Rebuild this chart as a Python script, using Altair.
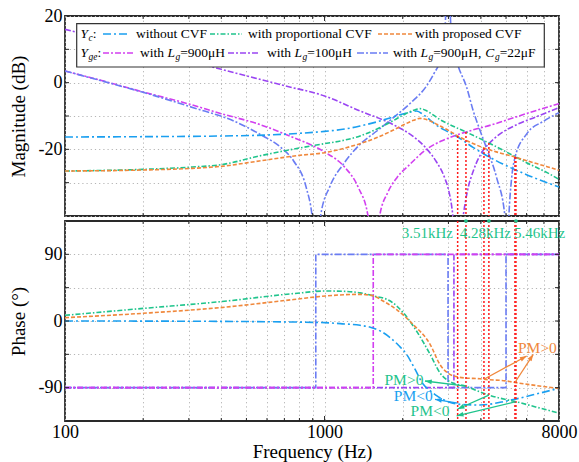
import math
import altair as alt
import pandas as pd

# ---------------- magnitude curves (Hz, dB) ----------------
yc_none_mag_f = [100, 200, 400, 600, 800, 1000, 1200, 1370, 1600, 1800, 2000, 2150, 2260,
                 2400, 2550, 2700, 3000, 3260, 3730, 4110, 4860, 6000, 7200, 8000]
yc_none_mag = [-16.3, -16.2, -16.0, -15.7, -15.2, -14.6, -13.9, -13.0, -11.7, -10.5, -9.4, -8.8, -8.5,
               -9.6, -11.2, -12.8, -14.8, -16.3, -19.4, -21.4, -24.4, -27.6, -30.0, -31.3]

yc_prop_mag_f = [100, 200, 310, 400, 560, 800, 1000, 1200, 1370, 1600, 1800, 2000, 2200, 2330,
                 2450, 2600, 2800, 3000, 3505, 4295, 5460, 6000, 7200, 8000]
yc_prop_mag = [-26.5, -26.0, -25.3, -24.6, -22.0, -19.6, -18.3, -17.2, -16.0, -13.8, -11.8, -9.8, -8.3, -7.8,
               -8.3, -9.5, -11.2, -12.4, -14.8, -18.1, -22.3, -24.0, -27.0, -29.0]

yc_new_mag_f = [100, 200, 310, 400, 560, 800, 1000, 1200, 1370, 1600, 1800, 2000, 2200, 2330, 2450,
                2600, 2800, 3000, 3256, 3600, 4111, 4700, 5412, 6000, 7200, 8000]
yc_new_mag = [-26.5, -26.2, -25.7, -25.1, -23.5, -21.8, -21.0, -19.6, -18.3, -16.4, -14.6, -12.8, -11.3, -10.7, -11.0,
              -11.8, -13.1, -14.3, -16.0, -17.7, -19.6, -21.0, -22.3, -23.4, -25.2, -26.3]

yge_l900_mag_f = [100, 150, 200, 300, 400, 560, 760, 1000, 1200, 1350, 1470, 1550, 1630, 1750, 1900,
                  2130, 2470, 2800, 3230, 3800, 4470, 5500, 6500, 8000]
yge_l900_mag = [3.5, -0.1, -2.8, -6.4, -9.3, -12.5, -16.5, -20.8, -25.5, -31.5, -40.0, -55.0, -40.0, -33.0, -28.5,
                -24.5, -20.0, -17.6, -15.7, -14.0, -12.5, -10.2, -8.4, -6.3]

yge_l100_mag_f = [100, 200, 400, 700, 1000, 1370, 1840, 2200, 2470, 2700, 2900, 3000, 3100, 3250, 3420,
                  3550, 3740, 4111, 4295, 4700, 5500, 6500, 8000]
yge_l100_mag = [16.0, 10.0, 4.0, -0.9, -4.0, -8.5, -12.6, -16.2, -19.8, -23.8, -28.5, -32.0, -38.0, -55.0, -40.0,
                -32.5, -26.5, -20.0, -18.3, -15.6, -12.6, -10.3, -7.5]

yge_lc_mag_f = [100, 150, 200, 312, 450, 564, 680, 760, 850, 895, 930, 965, 1050, 1180, 1370, 1590, 1840,
                2150, 2470, 2650, 2783, 2900, 2990, 3080, 3230, 3530, 3740, 4000, 4200, 4600, 4950, 5050,
                5130, 5250, 5412, 5990, 7000, 8000]
yge_lc_mag = [3.5, -0.2, -2.9, -7.5, -11.6, -15.5, -19.5, -23.5, -31.5, -40.0, -55.0, -40.0, -31.0, -24.5, -18.5,
              -14.5, -10.5, -6.0, -1.0, 3.0, 6.5, 14.0, 35.0, 14.0, 6.5, -1.5, -8.5, -15.0, -19.5, -28.5, -40.0,
              -55.0, -40.0, -29.0, -22.5, -15.5, -11.5, -9.0]

# ---------------- phase curves (Hz, deg) ----------------
yc_none_ph_f = [100, 300, 600, 1000, 1150, 1370, 1520, 1650, 1790, 1930, 2070, 2230, 2400, 2550, 2710,
                3050, 3330, 3970, 5030, 6300, 7950]
yc_none_ph = [0, -0.3, -1.0, -2.2, -3.6, -5.8, -9.0, -14.0, -22.5, -33.0, -45.0, -65.0, -85.5, -94.0, -101.0,
              -110.0, -112.5, -113.4, -108.0, -100.0, -91.0]

yc_prop_ph_f = [100, 200, 395, 760, 1010, 1200, 1370, 1540, 1790, 2000, 2260, 2550, 2780, 3130, 3505,
                3740, 4295, 5300, 5460, 6500, 7950]
yc_prop_ph = [7.7, 17.0, 26.0, 37.0, 40.5, 40.0, 38.0, 34.0, 27.0, 12.0, -13.5, -45.0, -69.8, -84.0, -88.0,
              -92.0, -100.0, -108.0, -109.0, -116.0, -124.0]

yc_new_ph_f = [100, 200, 395, 760, 1010, 1200, 1370, 1540, 1680, 1900, 2190, 2550, 2780, 3130, 3500,
               3970, 4111, 5030, 5412, 6500, 7950]
yc_new_ph = [4.5, 10.4, 18.0, 29.0, 33.8, 35.5, 36.0, 34.0, 27.0, 15.0, -4.5, -31.5, -58.5, -74.0, -77.0,
             -78.0, -78.7, -81.0, -83.0, -87.0, -91.0]

yge_l900_ph_f = [100, 1540, 1540, 8000]
yge_l900_ph = [-90, -90, 90, 90]
yge_l100_ph_f = [100, 3150, 3150, 8000]
yge_l100_ph = [-90, -90, 90, 90]
yge_lc_ph_f = [100, 925, 925, 2990, 2990, 5000, 5000, 8000]
yge_lc_ph = [-90, -90, 90, 90, -90, -90, 90, 90]

# intersection frequencies (Hz) and magnitude at the crossing (dB)
cross_f = [3256, 3505, 4111, 4295, 5412, 5460]
cross_mag = [-16.0, -14.8, -19.6, -18.1, -22.3, -22.3]

# marked crossover frequencies of the proportional-CVF design
mark_f = [3505, 4295, 5460]
mark_text = ["3.51kHz", "4.28kHz", "5.46kHz"]

# phase-margin annotations
pm_text = ["PM>0", "PM>0", "PM<0", "PM<0"]
pm_f = [6607, 2022, 2196, 2547]
pm_v = [-37.0, -80.3, -100.6, -121.5]

# arrows: tail (curve point) -> head (near label)
arrow_f0 = [4111, 5412, 3505, 3256, 4295, 5460]
arrow_v0 = [-78.7, -83.0, -88.0, -111.0, -100.0, -109.0]
arrow_f1 = [6005, 6368, 2436, 2663, 3256, 3228]
arrow_v1 = [-47.3, -45.0, -81.0, -105.7, -118.8, -128.0]

# ---------------- styling ----------------
W, H = 494, 200
F_MIN, F_MAX = 100, 8000
MAG_MIN, MAG_MAX = -40, 20
PH_MIN, PH_MAX = -135, 135
FONT = "Liberation Serif"

BLUE = "#1a9ff0"
GREEN = "#1fc48c"
ORANGE = "#f0883c"
MAGENTA = "#d23ff0"
PURPLE = "#9a45f2"
LAVENDER = "#6a7cf3"
RED = "#ff1a1a"

pm_color = [ORANGE, GREEN, BLUE, GREEN]
arrow_color = [ORANGE, ORANGE, GREEN, BLUE, GREEN, GREEN]

x_ticks = [100, 200, 300, 400, 500, 600, 700, 800, 900, 1000,
           2000, 3000, 4000, 5000, 6000, 7000, 8000]
x_minor = [200, 300, 400, 500, 600, 700, 800, 900, 2000, 3000, 4000, 5000, 6000, 7000]
x_major = [1000]

x_scale = alt.Scale(type="log", domain=[F_MIN, F_MAX], nice=False)
mag_scale = alt.Scale(domain=[MAG_MIN, MAG_MAX], nice=False, zero=False)
ph_scale = alt.Scale(domain=[PH_MIN, PH_MAX], nice=False, zero=False)

GRID = dict(grid=True, gridDash=[1.2, 3], gridColor="#b5b5b5", gridWidth=1,
            ticks=False, domain=False)

x_axis_top = alt.Axis(values=x_ticks, labels=False, title=None, **GRID)
x_axis_bot = alt.Axis(values=x_ticks, title="Frequency (Hz)", labelOverlap=False, labelFlush=False,
                      labelExpr="indexof([100, 1000, 8000], datum.value) >= 0 ? '' + datum.value : ''",
                      labelPadding=2, titlePadding=1, **GRID)
mag_axis = alt.Axis(values=[-40, -30, -20, -10, 0, 10, 20], title="Magnitude (dB)",
                    labelExpr="indexof([-20, 0, 20], datum.value) >= 0 ? '' + datum.value : ''",
                    labelPadding=3, titlePadding=10, **GRID)
ph_axis = alt.Axis(values=[-90, -45, 0, 45, 90], title="Phase (°)",
                   labelExpr="indexof([-90, 0, 90], datum.value) >= 0 ? '' + datum.value : ''",
                   labelPadding=3, titlePadding=10, **GRID)


def series_df(fs, vs):
    return pd.DataFrame({"f": fs, "v": vs, "i": list(range(len(fs)))})


def f_of_px(px):
    return F_MIN * (F_MAX / F_MIN) ** (px / W)


def mag_of_px(py):
    return MAG_MAX - (MAG_MAX - MAG_MIN) * py / H


def px_of(f, v):
    return (W * math.log10(f / F_MIN) / math.log10(F_MAX / F_MIN),
            H * (PH_MAX - v) / (PH_MAX - PH_MIN))


def panel_layers(x_axis, y_scale, y_axis):
    X = lambda: alt.X("f:Q", scale=x_scale, axis=x_axis)
    Y = lambda: alt.Y("v:Q", scale=y_scale, axis=y_axis)
    return X, Y


def curve(df, X, Y, color, dash, width=1.6):
    return alt.Chart(df).mark_line(
        color=color, strokeDash=dash, strokeWidth=width, clip=True, interpolate="monotone"
    ).encode(x=X(), y=Y(), order="i:Q")


def step(df, X, Y, color, dash, width=1.6):
    return alt.Chart(df).mark_line(
        color=color, strokeDash=dash, strokeWidth=width, clip=True, interpolate="linear"
    ).encode(x=X(), y=Y(), order="i:Q")


def frame_ticks(X, Y, y_tick_vals):
    tk = "#222"
    minor = pd.DataFrame({"f": x_minor})
    major = pd.DataFrame({"f": x_major})
    yv = pd.DataFrame({"v": y_tick_vals})
    out = []
    for d, ln in ((minor, 3), (major, 5)):
        out.append(alt.Chart(d).mark_rule(color=tk, strokeWidth=1).encode(
            x=X(), y=alt.value(0), y2=alt.value(ln)))
        out.append(alt.Chart(d).mark_rule(color=tk, strokeWidth=1).encode(
            x=X(), y=alt.value(H), y2=alt.value(H - ln)))
    out.append(alt.Chart(yv).mark_rule(color=tk, strokeWidth=1).encode(
        y=Y(), x=alt.value(0), x2=alt.value(4)))
    out.append(alt.Chart(yv).mark_rule(color=tk, strokeWidth=1).encode(
        y=Y(), x=alt.value(W), x2=alt.value(W - 4)))
    return out


# ---------------- legend layout ----------------
CW = {" ": 0.25, "w": 0.722, "i": 0.278, "t": 0.278, "h": 0.5, "o": 0.5, "u": 0.5, "C": 0.667,
      "V": 0.722, "F": 0.556, "p": 0.5, "r": 0.333, "n": 0.5, "a": 0.444, "l": 0.278, "s": 0.389,
      "e": 0.444, "d": 0.5, "L": 0.556, "g": 0.5, "=": 0.564, "μ": 0.576, "H": 0.722, ",": 0.25,
      "Y": 0.556, "c": 0.444, ":": 0.278}
LEG_FS, SUB_FS = 13.5, 9.5


def text_w(s, size):
    return sum(CW.get(ch, 0.5) for ch in s) * size


def runs_at(x0, y0, runs):
    rows = []
    x = x0
    for txt, style in runs:
        size = SUB_FS if style == "s" else LEG_FS
        yy = y0 + 4 if style == "s" else y0
        if txt.strip():
            rows.append({"f": f_of_px(x), "v": mag_of_px(yy), "t": txt.strip(), "style": style})
        x += text_w(txt, size)
        if style == "i":
            x += 0.6
    return rows


ROW1, ROW2 = 18, 37
legend_runs = []
legend_runs += runs_at(15.5, ROW1, [("Y", "i"), ("c", "s"), (":", "n")])
legend_runs += runs_at(71, ROW1, [("without CVF", "n")])
legend_runs += runs_at(183, ROW1, [("with proportional CVF", "n")])
legend_runs += runs_at(350, ROW1, [("with proposed CVF", "n")])
legend_runs += runs_at(15.5, ROW2, [("Y", "i"), ("ge", "s"), (":", "n")])
legend_runs += runs_at(75, ROW2, [("with ", "n"), ("L", "i"), ("g", "s"), ("=900μH", "n")])
legend_runs += runs_at(202, ROW2, [("with ", "n"), ("L", "i"), ("g", "s"), ("=100μH", "n")])
legend_runs += runs_at(328, ROW2, [("with ", "n"), ("L", "i"), ("g", "s"), ("=900μH, ", "n"),
                                   ("C", "i"), ("g", "s"), ("=22μF", "n")])
legend_df = pd.DataFrame(legend_runs)

# sample segments: (row, x-start, x-end) in panel pixels
legend_samples = {
    "none": (ROW1, 38, 63), "prop": (ROW1, 145, 177), "new": (ROW1, 313, 347),
    "l900": (ROW2, 38, 70), "l100": (ROW2, 163, 195), "lc": (ROW2, 292, 323),
}

STYLE = {
    "none": (BLUE, [8, 3, 2, 3]),
    "prop": (GREEN, [5, 2, 1.5, 2]),
    "new": (ORANGE, [4, 2]),
    "l900": (MAGENTA, [6, 2, 2, 2]),
    "l100": (PURPLE, [6, 2, 2, 2]),
    "lc": (LAVENDER, [7, 2, 2, 2]),
}

# ---------------- magnitude panel ----------------
Xm, Ym = panel_layers(x_axis_top, mag_scale, mag_axis)
mag_data = {
    "l900": (yge_l900_mag_f, yge_l900_mag), "l100": (yge_l100_mag_f, yge_l100_mag),
    "lc": (yge_lc_mag_f, yge_lc_mag),
    "none": (yc_none_mag_f, yc_none_mag), "prop": (yc_prop_mag_f, yc_prop_mag),
    "new": (yc_new_mag_f, yc_new_mag),
}
mag_layers = []
for key, (fs, vs) in mag_data.items():
    c, d = STYLE[key]
    mag_layers.append(curve(series_df(fs, vs), Xm, Ym, c, d))

cross_df = pd.DataFrame({"f": cross_f, "v": cross_mag})
mag_layers.append(alt.Chart(cross_df).mark_rule(color=RED, strokeDash=[2, 2], strokeWidth=1.5).encode(
    x=Xm(), y=Ym(), y2=alt.value(H)))
mag_layers += frame_ticks(Xm, Ym, [-30, -20, -10, 0, 10])

box_df = pd.DataFrame({"f": [f_of_px(11.7)], "f2": [f_of_px(479.3)],
                       "v": [mag_of_px(7.7)], "v2": [mag_of_px(51)]})
mag_layers.append(alt.Chart(box_df).mark_rect(fill="white", stroke="#333", strokeWidth=1.2).encode(
    x=Xm(), x2="f2:Q", y=Ym(), y2="v2:Q"))
for key, (row, a, b) in legend_samples.items():
    c, d = STYLE[key]
    sdf = pd.DataFrame({"f": [f_of_px(a)], "f2": [f_of_px(b)], "v": [mag_of_px(row)]})
    mag_layers.append(alt.Chart(sdf).mark_rule(color=c, strokeDash=d, strokeWidth=1.6).encode(
        x=Xm(), x2="f2:Q", y=Ym()))
for style, fsize, italic in (("n", LEG_FS, "normal"), ("i", LEG_FS, "italic"), ("s", SUB_FS, "italic")):
    sub = legend_df[legend_df["style"] == style]
    mag_layers.append(alt.Chart(sub).mark_text(
        font=FONT, fontSize=fsize, fontStyle=italic, align="left", baseline="middle", color="black"
    ).encode(x=Xm(), y=Ym(), text="t:N"))

mag_chart = alt.layer(*mag_layers).properties(width=W, height=H)

# ---------------- phase panel ----------------
Xp, Yp = panel_layers(x_axis_bot, ph_scale, ph_axis)
ph_layers = []
for key, (fs, vs) in (("lc", (yge_lc_ph_f, yge_lc_ph)), ("l100", (yge_l100_ph_f, yge_l100_ph)),
                      ("l900", (yge_l900_ph_f, yge_l900_ph))):
    c, d = STYLE[key]
    ph_layers.append(step(series_df(fs, vs), Xp, Yp, c, d))
for key, (fs, vs) in (("none", (yc_none_ph_f, yc_none_ph)), ("prop", (yc_prop_ph_f, yc_prop_ph)),
                      ("new", (yc_new_ph_f, yc_new_ph))):
    c, d = STYLE[key]
    ph_layers.append(curve(series_df(fs, vs), Xp, Yp, c, d))

ph_layers.append(alt.Chart(pd.DataFrame({"f": cross_f})).mark_rule(
    color=RED, strokeDash=[2, 2], strokeWidth=1.5).encode(x=Xp(), y=alt.value(0), y2=alt.value(H)))
ph_layers += frame_ticks(Xp, Yp, [-90, -45, 0, 45, 90])

mark_df = pd.DataFrame({"f": mark_f, "v": [PH_MAX] * len(mark_f), "t": mark_text})
ph_layers.append(alt.Chart(mark_df).mark_circle(color=GREEN, size=14, opacity=1).encode(x=Xp(), y=Yp()))
for idx, (al, dx) in enumerate((("right", -13), ("center", -3.5), ("left", -2))):
    ph_layers.append(alt.Chart(mark_df.iloc[[idx]]).mark_text(
        font=FONT, fontSize=15, color=GREEN, align=al, baseline="middle", dx=dx, dy=12
    ).encode(x=Xp(), y=Yp(), text="t:N"))

arrows = []
for f0, v0, f1, v1, c in zip(arrow_f0, arrow_v0, arrow_f1, arrow_v1, arrow_color):
    x0, y0 = px_of(f0, v0)
    x1, y1 = px_of(f1, v1)
    ang = math.degrees(math.atan2(x1 - x0, -(y1 - y0))) % 360
    arrows.append({"f": f0, "v": v0, "f2": f1, "v2": v1, "c": c, "ang": ang})
arrow_df = pd.DataFrame(arrows)
ph_layers.append(alt.Chart(arrow_df).mark_rule(strokeWidth=1.3).encode(
    x=Xp(), x2="f2:Q", y=Yp(), y2="v2:Q", color=alt.Color("c:N", scale=None)))
head_df = arrow_df.assign(f=arrow_df["f2"], v=arrow_df["v2"])
ph_layers.append(alt.Chart(head_df).mark_point(
    shape="M0,0L-0.6,1.7L0.6,1.7Z", filled=True, size=64, opacity=1, strokeWidth=0
).encode(x=Xp(), y=Yp(), color=alt.Color("c:N", scale=None), angle=alt.Angle("ang:Q", scale=None)))

pm_df = pd.DataFrame({"f": pm_f, "v": pm_v, "t": pm_text, "c": pm_color})
ph_layers.append(alt.Chart(pm_df).mark_text(
    font=FONT, fontSize=15.5, align="center", baseline="middle"
).encode(x=Xp(), y=Yp(), text="t:N", color=alt.Color("c:N", scale=None)))

ph_chart = alt.layer(*ph_layers).properties(width=W, height=H)

chart = alt.vconcat(mag_chart, ph_chart, spacing=5, bounds="flush").properties(
    padding={"left": 8, "top": 6, "right": 0, "bottom": 0}
).configure_view(
    stroke="#2a2a2a", strokeWidth=1.8
).configure_axis(
    labelFont=FONT, labelFontSize=18, labelColor="black",
    titleFont=FONT, titleFontSize=19, titleFontWeight="normal", titleColor="black"
)

chart.save("out.html", embed_options={"renderer": "svg", "actions": False})
